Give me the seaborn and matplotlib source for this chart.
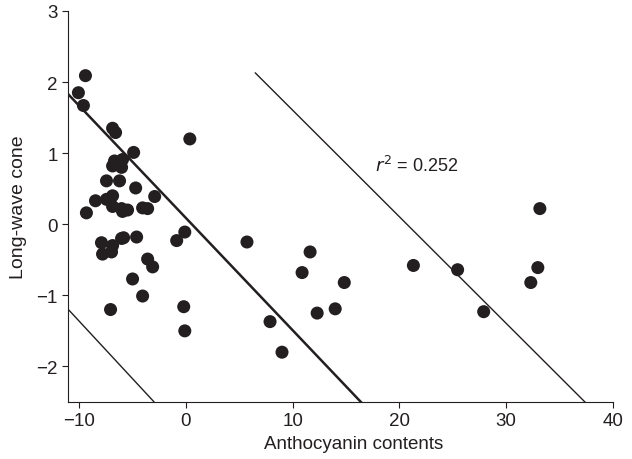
import numpy as np
import pandas as pd
import matplotlib
matplotlib.use("Agg")
import matplotlib.pyplot as plt
import seaborn as sns

# scatter values
anthocyanin = [-9.39, -10.05, -9.58, -6.85, -6.57, 0.38, -4.88, -6.67, -5.92, -6.85,
               -6.01, -6.38, -7.42, -6.20, -4.69, -2.91, -8.45, -7.42, -6.85, -6.85,
               -6.01, -5.45, -5.92, -4.04, -3.57, -9.30, -7.89, -6.85, -7.79, -6.95,
               -6.01, -5.82, -4.60, -0.85, -0.09, 5.73, -3.57, -3.10, -4.98, -4.04,
               -7.04, -0.19, -0.09, 7.89, 9.01, 11.64, 10.89, 14.84, 12.30, 13.99,
               21.31, 25.45, 27.89, 33.15, 32.96, 32.30]
long_wave = [2.09, 1.85, 1.67, 1.35, 1.29, 1.20, 1.01, 0.89, 0.91, 0.82,
             0.80, 0.87, 0.61, 0.61, 0.51, 0.39, 0.33, 0.35, 0.40, 0.25,
             0.22, 0.20, 0.18, 0.23, 0.22, 0.16, -0.26, -0.30, -0.42, -0.39,
             -0.20, -0.19, -0.18, -0.23, -0.11, -0.25, -0.49, -0.60, -0.77, -1.01,
             -1.20, -1.16, -1.50, -1.37, -1.80, -0.39, -0.68, -0.82, -1.25, -1.19,
             -0.58, -0.64, -1.23, 0.22, -0.61, -0.82]

# fitted line and band segments: slope, intercept, x start, x end
line_slope = [-0.150, -0.158, -0.162]
line_intercept = [3.105, 0.09, -2.98]
line_x0 = [6.5, -11.0, -11.0]
line_x1 = [37.4, 16.5, -2.96]
line_width = [1.0, 1.8, 1.0]

df = pd.DataFrame({"Anthocyanin": anthocyanin, "LongWave": long_wave})

sns.set_style("ticks")
plt.rcParams["font.family"] = ["Liberation Sans", "DejaVu Sans"]
plt.rcParams["xtick.major.size"] = 4
plt.rcParams["ytick.major.size"] = 4

fig = plt.figure(figsize=(6.32, 4.6), dpi=100)
ax = fig.add_axes([0.108, 0.124, 0.862, 0.85])

for k in range(len(line_slope)):
    xs = np.array([line_x0[k], line_x1[k]])
    ys = line_slope[k] * xs + line_intercept[k]
    sns.lineplot(x=xs, y=ys, color="#231f20", linewidth=line_width[k], ax=ax)

sns.scatterplot(data=df, x="Anthocyanin", y="LongWave", color="#231f20",
                s=88, edgecolor="none", ax=ax, zorder=3)

ax.set_xlim(-11, 40)
ax.set_ylim(-2.5, 3)
ax.set_xticks([-10, 0, 10, 20, 30, 40])
ax.set_yticks([-2, -1, 0, 1, 2, 3])
ax.set_xticklabels(["\u221210", "0", "10", "20", "30", "40"])
ax.set_yticklabels(["\u22122", "\u22121", "0", "1", "2", "3"])
ax.tick_params(labelsize=13.5, width=0.8, color="#231f20", labelcolor="#231f20")
for s in ["left", "bottom"]:
    ax.spines[s].set_linewidth(0.8)
    ax.spines[s].set_color("#231f20")
sns.despine(ax=ax)

ax.set_xlabel("Anthocyanin contents", fontsize=13.5, color="#231f20")
ax.set_ylabel("Long-wave cone", fontsize=14, color="#231f20")
ax.xaxis.set_label_coords(0.523, -0.085)
ax.yaxis.set_label_coords(-0.075, 0.5)
ax.text(17.7, 0.84, "$r^2$ = 0.252", fontsize=13, color="#231f20", va="center")

plt.savefig("out.png", dpi=100)
